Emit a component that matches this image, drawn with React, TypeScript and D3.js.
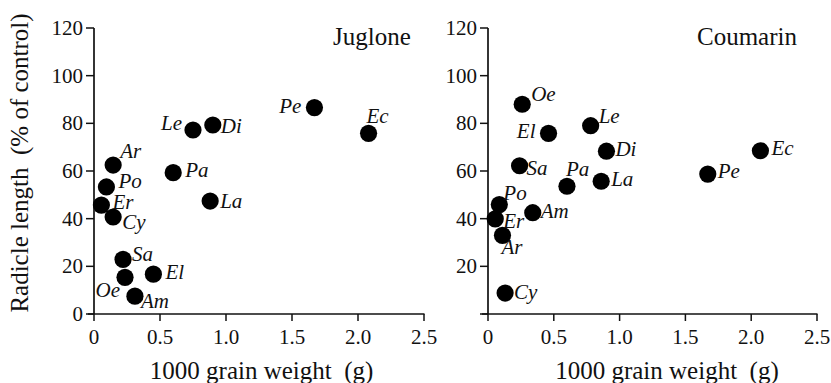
import React from "react";
import * as d3 from "d3";

// species codes (same order in both panels)
const species = ["Pe", "Ec", "Le", "Di", "Ar", "Pa", "Po", "Er", "Cy", "La", "Sa", "Oe", "El", "Am"];

// 1000 grain weight (g)
const weightJuglone = [1.67, 2.08, 0.75, 0.9, 0.145, 0.6, 0.094, 0.056, 0.145, 0.88, 0.22, 0.235, 0.45, 0.31];
const weightCoumarin = [1.67, 2.07, 0.78, 0.9, 0.11, 0.6, 0.086, 0.055, 0.13, 0.86, 0.24, 0.26, 0.46, 0.34];

// radicle length (% of control)
const radicleJuglone = [86.6, 75.8, 77.2, 79.3, 62.5, 59.3, 53.3, 45.7, 40.7, 47.4, 22.9, 15.4, 16.7, 7.5];
const radicleCoumarin = [58.7, 68.5, 79, 68.3, 33, 53.6, 45.9, 39.9, 8.8, 55.7, 62.2, 88, 75.8, 42.5];

const xTicks = [0, 0.5, 1.0, 1.5, 2.0, 2.5];
const xTickLabels = ["0", "0.5", "1.0", "1.5", "2.0", "2.5"];
const yTicks = [0, 20, 40, 60, 80, 100, 120];

// where each label sits relative to its dot: [dx, dy, anchor]
type Place = [number, number, "start" | "end"];
const placeJuglone: Record<string, Place> = {
  Pe: [-13, 5, "end"], Ec: [-2, -10, "start"], Le: [-11, 0, "end"], Di: [8, 8, "start"],
  Ar: [7, -7, "start"], Pa: [12, 4, "start"], Po: [12, 1, "start"], Er: [11, 4, "start"],
  Cy: [9, 12, "start"], La: [10, 7, "start"], Sa: [9, 2, "start"], Oe: [-5, 20, "end"],
  El: [12, 5, "start"], Am: [6, 12, "start"],
};
const placeCoumarin: Record<string, Place> = {
  Pe: [10, 4, "start"], Ec: [11, 4, "start"], Le: [8, -3, "start"], Di: [9, 5, "start"],
  Ar: [-1, 19, "start"], Pa: [-1, -10, "start"], Po: [4, -5, "start"], Er: [8, 9, "start"],
  Cy: [9, 6, "start"], La: [10, 5, "start"], Sa: [7, 9, "start"], Oe: [9, -3, "start"],
  El: [-13, 5, "end"], Am: [8, 5, "start"],
};

const FONT = '"Liberation Serif", "DejaVu Serif", serif';

interface PanelProps {
  x0: number;
  x1: number;
  title: string;
  titleX: number;
  weights: number[];
  values: number[];
  place: Record<string, Place>;
  showZero: boolean;
  xTitleAt: number;
  yTitle?: boolean;
}

const Panel: React.FC<PanelProps> = ({ x0, x1, title, titleX, weights, values, place, showZero, xTitleAt, yTitle }) => {
  const x = d3.scaleLinear().domain([0, 2.5]).range([x0, x1]);
  const y = d3.scaleLinear().domain([0, 120]).range([314, 28]);
  const stroke = "#111";
  return (
    <g style={{ fontFamily: FONT }} fill="#111">
      {/* axes */}
      <line x1={x0 - 6} x2={x1 + 0.5} y1={y(0)} y2={y(0)} stroke={stroke} strokeWidth={1.7} />
      <line x1={x0} x2={x0} y1={y(0)} y2={y(120)} stroke={stroke} strokeWidth={1.7} />
      {yTicks.map((t) => (
        <g key={"y" + t}>
          <line x1={x0 - 8} x2={x0} y1={y(t)} y2={y(t)} stroke={stroke} strokeWidth={1.5} />
          {(t !== 0 || showZero) && (
            <text x={x0 - 11} y={y(t)} dy="0.34em" textAnchor="end" fontSize={21}>
              {t}
            </text>
          )}
        </g>
      ))}
      {xTicks.map((t, i) => (
        <g key={"x" + t}>
          <line x1={x(t)} x2={x(t)} y1={y(0)} y2={y(0) + 7} stroke={stroke} strokeWidth={1.5} />
          <text x={x(t)} y={344} textAnchor="middle" fontSize={21}>
            {xTickLabels[i]}
          </text>
        </g>
      ))}
      <text x={x(xTitleAt)} y={379} textAnchor="middle" fontSize={25}>
        1000 grain weight{"\u00a0\u00a0"}(g)
      </text>
      {yTitle && (
        <text transform={`translate(28,163) rotate(-90)`} textAnchor="middle" fontSize={25}>
          Radicle length{"\u00a0\u00a0"}(% of control)
        </text>
      )}
      <text x={titleX} y={45} fontSize={25}>
        {title}
      </text>
      {/* dots */}
      {species.map((s, i) => (
        <circle key={"c" + s} cx={x(weights[i])} cy={y(values[i])} r={8.6} fill="#000" />
      ))}
      {species.map((s, i) => {
        const p = place[s];
        return (
          <text
            key={"t" + s}
            x={x(weights[i]) + p[0]}
            y={y(values[i]) + p[1]}
            textAnchor={p[2]}
            fontSize={21}
            fontStyle="italic"
          >
            {s}
          </text>
        );
      })}
    </g>
  );
};

export default function App() {
  return (
    <svg
      width={831}
      height={383}
      style={{ position: "absolute", left: 0, top: 0, background: "#fff" }}
    >
      <rect width={831} height={383} fill="#fff" />
      <Panel
        x0={94}
        x1={424}
        title="Juglone"
        titleX={333}
        weights={weightJuglone}
        values={radicleJuglone}
        place={placeJuglone}
        showZero={true}
        xTitleAt={1.27}
        yTitle={true}
      />
      <Panel
        x0={488}
        x1={817}
        title="Coumarin"
        titleX={697}
        weights={weightCoumarin}
        values={radicleCoumarin}
        place={placeCoumarin}
        showZero={false}
        xTitleAt={1.36}
      />
    </svg>
  );
}
